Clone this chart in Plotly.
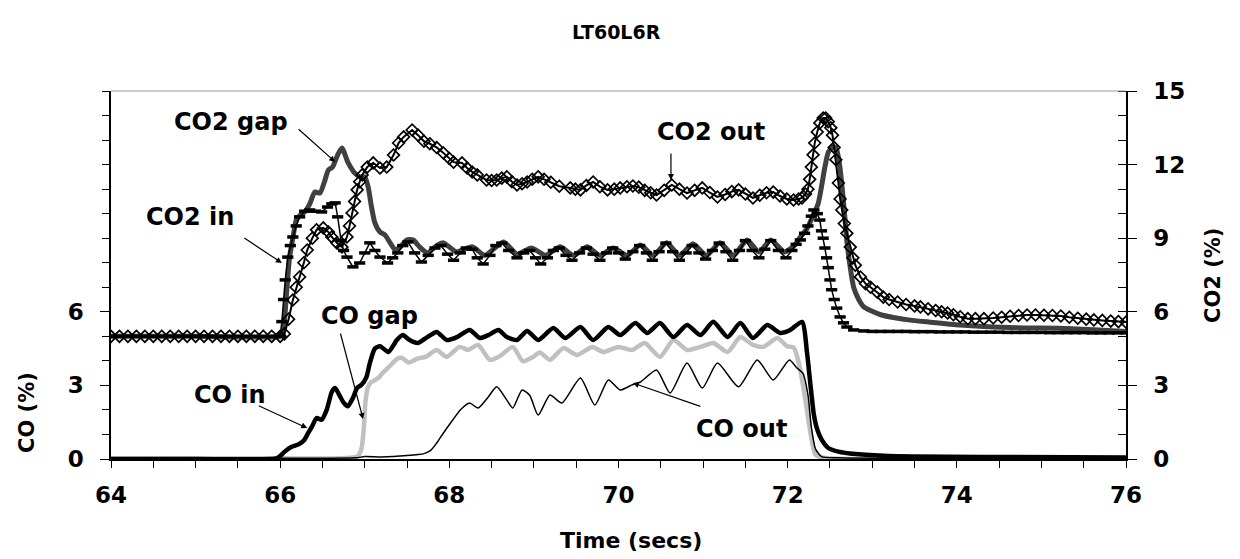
import plotly.graph_objects as go

# ---------------- data (time in s, concentration in %) ----------------
co_in_t = [64.0, 65.0, 65.95, 66.0, 66.05, 66.13, 66.22, 66.28, 66.33, 66.38, 66.43, 66.49,
           66.55, 66.61, 66.65, 66.70, 66.75, 66.80, 66.86, 66.91, 66.96, 67.02, 67.06, 67.12,
           67.18, 67.28, 67.38, 67.45, 67.53, 67.63, 67.74, 67.85, 67.97, 68.09, 68.24, 68.36,
           68.46, 68.58, 68.68, 68.80, 68.92, 69.05, 69.23, 69.37, 69.55, 69.70, 69.88, 70.02,
           70.20, 70.34, 70.49, 70.65, 70.81, 70.97, 71.12, 71.29, 71.44, 71.59, 71.76, 71.91,
           72.03, 72.17, 72.23, 72.27, 72.31, 72.35, 72.40, 72.48, 72.60, 72.80, 73.20, 74.5, 76.0]
co_in_v = [0.0, 0.0, 0.02, 0.12, 0.29, 0.49, 0.6, 0.75, 1.05, 1.35, 1.67, 1.6,
           2.0, 2.73, 2.89, 2.6, 2.3, 2.15, 2.49, 2.9, 3.02, 3.34, 3.91, 4.5,
           4.6, 4.36, 4.85, 5.05, 4.85, 4.73, 4.97, 5.18, 4.85, 4.97, 5.26, 4.93,
           5.05, 5.26, 4.97, 4.85, 5.22, 4.85, 5.34, 4.93, 5.38, 4.85, 5.38, 5.05,
           5.54, 5.14, 5.54, 4.97, 5.46, 5.05, 5.59, 4.97, 5.54, 4.93, 5.46, 5.14,
           5.26, 5.59, 4.3, 3.0, 1.8, 1.2, 0.8, 0.45, 0.3, 0.2, 0.12, 0.08, 0.06]

co_gap_t = [64.0, 66.0, 66.91, 66.96, 66.99, 67.01, 67.04, 67.08, 67.16, 67.21, 67.30, 67.38,
            67.44, 67.52, 67.63, 67.72, 67.85, 67.97, 68.12, 68.22, 68.34, 68.48, 68.60, 68.75,
            68.87, 68.99, 69.07, 69.19, 69.35, 69.51, 69.69, 69.82, 70.00, 70.16, 70.31, 70.49,
            70.65, 70.81, 70.97, 71.12, 71.29, 71.44, 71.59, 71.71, 71.88, 71.99, 72.07, 72.11,
            72.15, 72.21, 72.27, 72.33, 72.45, 76.0]
co_gap_v = [0.02, 0.03, 0.1, 0.4, 1.3, 2.4, 2.94, 3.14, 3.3, 3.5, 3.8, 4.08,
            4.12, 3.93, 4.1, 4.16, 4.44, 4.16, 4.57, 4.45, 4.65, 4.04, 4.2, 4.57,
            3.98, 4.16, 4.34, 4.04, 4.52, 4.24, 4.57, 4.36, 4.57, 4.44, 4.73, 4.16,
            4.85, 4.44, 4.57, 4.73, 4.36, 4.97, 4.65, 4.57, 4.93, 4.6, 4.55, 4.2,
            3.6, 2.4, 1.06, 0.16, 0.04, 0.03]

co_out_t = [64.0, 66.0, 66.9, 67.0, 67.2, 67.5, 67.70, 67.78, 67.85, 67.93, 68.04, 68.13,
            68.24, 68.34, 68.46, 68.56, 68.68, 68.75, 68.86, 68.95, 69.05, 69.19, 69.33, 69.55,
            69.72, 69.88, 70.02, 70.16, 70.26, 70.45, 70.61, 70.81, 70.99, 71.17, 71.42, 71.64,
            71.83, 72.02, 72.11, 72.18, 72.24, 72.28, 72.33, 72.40, 72.6, 76.0]
co_out_v = [0.02, 0.03, 0.05, 0.1, 0.08, 0.14, 0.22, 0.35, 0.65, 1.06, 1.59, 2.0,
            2.28, 2.08, 2.53, 2.94, 2.40, 2.08, 2.81, 2.6, 1.79, 2.61, 2.28, 3.30,
            2.20, 3.22, 2.81, 3.02, 3.14, 3.63, 2.69, 3.91, 2.89, 3.91, 2.94, 4.04,
            3.22, 4.04, 3.71, 3.5, 2.6, 1.3, 0.4, 0.1, 0.05, 0.03]

co2_in_t = [64.0, 64.1, 64.2, 64.3, 64.4, 64.5, 64.6, 64.7, 64.8, 64.9, 65.0, 65.1, 65.2,
            65.3, 65.4, 65.5, 65.6, 65.7, 65.8, 65.9, 66.0, 66.02, 66.04, 66.06, 66.09, 66.12,
            66.15, 66.19, 66.23, 66.29, 66.35, 66.42, 66.49, 66.56, 66.61, 66.65, 66.68, 66.72,
            66.75, 66.79, 66.86, 66.94, 67.00, 67.06, 67.12, 67.18, 67.27, 67.33, 67.39, 67.45,
            67.51, 67.59, 67.67, 67.75, 67.83, 67.90, 67.98, 68.05, 68.13, 68.20, 68.27, 68.33,
            68.40, 68.48, 68.55, 68.62, 68.70, 68.80, 68.88, 68.95, 69.02, 69.08, 69.16, 69.23,
            69.30, 69.38, 69.45, 69.54, 69.62, 69.70, 69.78, 69.86, 69.93, 70.00, 70.08, 70.17,
            70.25, 70.33, 70.40, 70.48, 70.56, 70.64, 70.72, 70.80, 70.87, 70.95, 71.03, 71.11,
            71.19, 71.27, 71.35, 71.43, 71.50, 71.58, 71.66, 71.73, 71.80, 71.89, 71.98, 72.05,
            72.10, 72.15, 72.20, 72.24, 72.28, 72.31, 72.35, 72.38, 72.40, 72.42, 72.44, 72.46,
            72.48, 72.50, 72.52, 72.55, 72.58, 72.62, 72.66, 72.70, 72.78, 72.9, 73.0, 73.1,
            73.2, 73.3, 73.4, 73.5, 73.6, 73.7, 73.8, 73.9, 74.0, 74.1, 74.2, 74.3, 74.4, 74.5,
            74.6, 74.7, 74.8, 74.9, 75.0, 75.1, 75.2, 75.3, 75.4, 75.5, 75.6, 75.7, 75.8, 75.9,
            76.0]
co2_in_v = [5.0, 5.0, 5.0, 5.0, 5.0, 5.0, 5.0, 5.0, 5.0, 5.0, 5.0, 5.0, 5.0,
            5.0, 5.0, 5.0, 5.0, 5.0, 5.0, 5.0, 5.0, 5.6, 6.5, 7.3, 8.23, 8.7,
            9.05, 9.5, 9.87, 10.1, 10.15, 10.1, 10.07, 10.27, 10.4, 10.44, 9.87, 8.9,
            8.5, 8.23, 7.83, 7.99, 8.4, 8.81, 8.5, 8.23, 7.99, 8.2, 8.40, 8.7,
            8.85, 8.4, 8.03, 8.3, 8.6, 8.7, 8.35, 8.1, 8.4, 8.6, 8.55, 8.2,
            7.95, 8.3, 8.7, 8.8, 8.5, 8.2, 8.4, 8.5, 8.2, 7.95, 8.2, 8.5,
            8.6, 8.3, 8.1, 8.4, 8.6, 8.35, 8.1, 8.4, 8.6, 8.4, 8.15, 8.45,
            8.7, 8.4, 8.1, 8.45, 8.8, 8.45, 8.1, 8.4, 8.7, 8.4, 8.15, 8.5,
            8.8, 8.45, 8.1, 8.5, 8.9, 8.5, 8.2, 8.55, 8.9, 8.5, 8.2, 8.5,
            8.75, 8.93, 9.2, 9.5, 9.9, 10.15, 10.0, 9.74, 9.3, 9.0, 8.6, 8.2,
            7.8, 7.3, 6.9, 6.5, 6.15, 5.79, 5.55, 5.38, 5.26, 5.22, 5.2, 5.2,
            5.2, 5.2, 5.2, 5.19, 5.19, 5.19, 5.18, 5.18, 5.18, 5.18, 5.17, 5.17, 5.17, 5.17,
            5.16, 5.16, 5.16, 5.16, 5.16, 5.15, 5.15, 5.15, 5.15, 5.15, 5.14, 5.14, 5.14, 5.14,
            5.14]

co2_gap_t = [64.0, 65.0, 66.0, 66.03, 66.05, 66.07, 66.09, 66.11, 66.15, 66.19, 66.24, 66.29,
             66.35, 66.41, 66.47, 66.53, 66.57, 66.62, 66.68, 66.73, 66.80, 66.88, 66.94, 67.00,
             67.04, 67.08, 67.12, 67.18, 67.24, 67.30, 67.36, 67.42, 67.50, 67.57, 67.65, 67.74,
             67.85, 67.93, 68.08, 68.27, 68.42, 68.64, 68.80, 68.97, 69.14, 69.31, 69.47, 69.63,
             69.78, 69.94, 70.10, 70.26, 70.41, 70.57, 70.72, 70.88, 71.04, 71.20, 71.36, 71.52,
             71.66, 71.80, 71.96, 72.08, 72.15, 72.23, 72.31, 72.36, 72.40, 72.44, 72.48, 72.53,
             72.57, 72.61, 72.64, 72.67, 72.70, 72.74, 72.78, 72.84, 72.90, 72.98, 73.10, 73.25,
             73.45, 73.65, 74.04, 74.43, 74.8, 75.2, 75.62, 76.0]
co2_gap_v = [5.0, 5.0, 5.0, 5.1, 5.6, 6.5, 7.4, 8.2, 9.0, 9.74, 9.95, 10.07,
             10.4, 10.88, 10.84, 11.37, 11.78, 11.9, 12.4, 12.68, 12.1, 11.66, 11.5, 11.5,
             11.09, 10.27, 9.62, 9.25, 9.13, 8.81, 8.52, 8.64, 8.93, 8.93, 8.64, 8.40,
             8.7, 8.81, 8.45, 8.65, 8.3, 8.85, 8.35, 8.6, 8.3, 8.65, 8.3, 8.65,
             8.3, 8.6, 8.3, 8.72, 8.3, 8.81, 8.3, 8.77, 8.3, 8.81, 8.3, 8.93,
             8.44, 8.93, 8.44, 8.7, 9.05, 9.4, 10.0, 10.4, 11.1, 11.9, 12.5, 12.72,
             12.7, 12.1, 11.2, 10.1, 8.9, 7.8, 7.0, 6.5, 6.2, 6.05, 5.88, 5.77,
             5.66, 5.59, 5.46, 5.38, 5.34, 5.33, 5.27, 5.2]

co2_out_t = [64.0, 64.1, 64.2, 64.3, 64.4, 64.5, 64.6, 64.7, 64.8, 64.9, 65.0, 65.1, 65.2,
             65.3, 65.4, 65.5, 65.6, 65.7, 65.8, 65.9, 66.0, 66.05, 66.10, 66.15, 66.19, 66.23,
             66.28, 66.32, 66.38, 66.43, 66.51, 66.57, 66.61, 66.67, 66.73, 66.79, 66.82, 66.85,
             66.88, 66.91, 66.94, 66.97, 67.03, 67.10, 67.18, 67.26, 67.34, 67.40, 67.46, 67.56,
             67.63, 67.70, 67.77, 67.85, 67.93, 68.00, 68.05, 68.15, 68.21, 68.27, 68.33, 68.44,
             68.50, 68.56, 68.62, 68.68, 68.74, 68.80, 68.86, 68.92, 68.98, 69.05, 69.12, 69.20,
             69.30, 69.43, 69.49, 69.55, 69.62, 69.70, 69.78, 69.87, 69.95, 70.02, 70.10, 70.17,
             70.24, 70.31, 70.38, 70.45, 70.54, 70.63, 70.72, 70.81, 70.90, 70.99, 71.08, 71.17,
             71.26, 71.34, 71.42, 71.50, 71.59, 71.67, 71.75, 71.83, 71.91, 71.99, 72.07, 72.13,
             72.17, 72.21, 72.24, 72.26, 72.28, 72.30, 72.32, 72.35, 72.38, 72.42, 72.45, 72.48,
             72.51, 72.53, 72.55, 72.57, 72.60, 72.62, 72.64, 72.67, 72.70, 72.74, 72.77, 72.80,
             72.86, 72.92, 72.98, 73.06, 73.13, 73.20, 73.30, 73.40, 73.50, 73.57, 73.66, 73.75,
             73.82, 73.89, 73.96, 74.04, 74.13, 74.22, 74.32, 74.43, 74.53, 74.63, 74.73, 74.83,
             74.93, 75.03, 75.13, 75.23, 75.33, 75.43, 75.53, 75.62, 75.72, 75.82, 75.91, 76.0]
co2_out_v = [5.0, 5.0, 5.0, 5.0, 5.0, 5.0, 5.0, 5.0, 5.0, 5.0, 5.0, 5.0, 5.0,
             5.0, 5.0, 5.0, 5.0, 5.0, 5.0, 5.0, 5.0, 5.1, 5.7, 6.48, 7.0, 7.42,
             8.0, 8.52, 9.0, 9.34, 9.42, 9.25, 9.05, 8.81, 8.64, 9.05, 9.5, 10.03,
             10.5, 10.97, 11.3, 11.58, 11.9, 12.07, 11.86, 11.9, 12.39, 12.88, 13.13, 13.41,
             13.2, 12.95, 12.85, 12.7, 12.47, 12.25, 12.1, 12.07, 11.86, 11.7, 11.58, 11.37,
             11.35, 11.37, 11.45, 11.5, 11.3, 11.17, 11.22, 11.29, 11.4, 11.5, 11.4, 11.28,
             11.12, 11.05, 11.0, 10.97, 11.15, 11.29, 11.1, 10.97, 11.0, 11.05, 11.1, 11.13,
             11.08, 10.95, 10.85, 10.76, 10.95, 11.17, 11.0, 10.84, 10.95, 11.05, 10.86, 10.68,
             10.78, 10.9, 10.97, 10.8, 10.64, 10.75, 10.85, 10.88, 10.72, 10.6, 10.56, 10.6,
             10.64, 10.8, 11.0, 11.4, 11.9, 12.4, 12.88, 13.33, 13.7, 13.9, 13.9, 13.75,
             13.5, 13.2, 12.7, 12.2, 11.25, 10.6, 10.15, 9.6, 9.2, 8.64, 8.2, 7.9,
             7.42, 7.15, 7.0, 6.8, 6.6, 6.5, 6.4, 6.3, 6.24, 6.2, 6.12, 6.05,
             6.0, 5.95, 5.88, 5.8, 5.72, 5.72, 5.72, 5.75, 5.78, 5.82, 5.85, 5.87,
             5.87, 5.86, 5.85, 5.83, 5.78, 5.74, 5.7, 5.67, 5.65, 5.62, 5.6, 5.58]

# axis ticks: marks every half second, labels every two seconds
x_tickvals = [64.0, 64.5, 65.0, 65.5, 66.0, 66.5, 67.0, 67.5, 68.0, 68.5, 69.0, 69.5,
              70.0, 70.5, 71.0, 71.5, 72.0, 72.5, 73.0, 73.5, 74.0, 74.5, 75.0, 75.5, 76.0]
x_ticktext = ["64", "", "", "", "66", "", "", "", "68", "", "", "",
              "70", "", "", "", "72", "", "", "", "74", "", "", "", "76"]
co_ticks = [0, 3, 6]
co2_ticks = [0, 3, 6, 9, 12, 15]

FONT = "DejaVu Sans"
BLACK = "#000000"

fig = go.Figure()

# CO traces (left axis)
fig.add_trace(go.Scatter(x=co_gap_t, y=co_gap_v, name="CO gap", mode="lines",
                         line=dict(color="#c0c0c0", width=4.5, shape="spline", smoothing=0.6)))
fig.add_trace(go.Scatter(x=co_out_t, y=co_out_v, name="CO out", mode="lines",
                         line=dict(color=BLACK, width=1.5, shape="spline", smoothing=0.6)))
fig.add_trace(go.Scatter(x=co_in_t, y=co_in_v, name="CO in", mode="lines",
                         line=dict(color=BLACK, width=4.5, shape="spline", smoothing=0.6)))

# CO2 traces (right axis)
fig.add_trace(go.Scatter(x=co2_gap_t, y=co2_gap_v, name="CO2 gap", mode="lines", yaxis="y2",
                         line=dict(color="#404040", width=5, shape="spline", smoothing=0.6)))
fig.add_trace(go.Scatter(x=co2_in_t, y=co2_in_v, name="CO2 in", mode="lines+markers",
                         yaxis="y2", line=dict(color=BLACK, width=1.5),
                         marker=dict(symbol="line-ew", size=8,
                                     line=dict(color=BLACK, width=3.5))))
fig.add_trace(go.Scatter(x=co2_out_t, y=co2_out_v, name="CO2 out", mode="lines+markers",
                         yaxis="y2",
                         line=dict(color=BLACK, width=2),
                         marker=dict(symbol="diamond-open", size=9, color=BLACK,
                                     line=dict(color=BLACK, width=1.7))))

tick_font = dict(family=FONT, size=23, color=BLACK, weight="bold")
label_font = dict(family=FONT, size=24, color=BLACK, weight="bold")

fig.update_layout(
    width=1240, height=559,
    margin=dict(l=111, r=114, t=91, b=100),
    paper_bgcolor="white", plot_bgcolor="white",
    showlegend=False,
    xaxis=dict(range=[64, 76], tickmode="array", tickvals=x_tickvals, ticktext=x_ticktext,
               ticks="outside", ticklen=7, tickwidth=1, tickcolor=BLACK, showline=True,
               linecolor=BLACK, linewidth=1.5, showgrid=False, zeroline=False,
               tickfont=tick_font, ticklabelstandoff=8, minor=dict(ticks="")),
    yaxis=dict(range=[0, 15], tickvals=co_ticks, ticks="outside", ticklen=9, tickwidth=1,
               tickcolor=BLACK, showline=True, linecolor=BLACK, linewidth=1.5,
               showgrid=False, zeroline=False, tickfont=tick_font, ticklabelstandoff=12,
               minor=dict(tickmode="linear", tick0=0, dtick=1, ticks="outside", ticklen=7,
                          tickcolor=BLACK, tickwidth=1)),
    yaxis2=dict(range=[0, 15], tickvals=co2_ticks, overlaying="y", side="right",
                ticks="outside", ticklen=9, tickwidth=1, tickcolor=BLACK, showline=True,
                linecolor=BLACK, linewidth=1.5, showgrid=False, zeroline=False,
                tickfont=tick_font, ticklabelstandoff=12,
                minor=dict(tickmode="linear", tick0=0, dtick=1, ticks="inside", ticklen=8,
                           tickcolor=BLACK, tickwidth=1)),
)

# thin border along the top of the plotting area
fig.add_shape(type="line", xref="paper", yref="paper", x0=0, x1=1, y0=1, y1=1,
              line=dict(color="#9a9a9a", width=1))

# titles
fig.add_annotation(text="LT60L6R", xref="paper", yref="paper", x=0.4985, y=1.160,
                   showarrow=False, font=dict(family=FONT, size=19, color=BLACK, weight="bold"),
                   xanchor="center", yanchor="middle")
fig.add_annotation(text="Time (secs)", xref="paper", yref="paper", x=0.512, y=-0.2228,
                   showarrow=False, font=dict(family=FONT, size=22, color=BLACK, weight="bold"),
                   xanchor="center", yanchor="middle")
fig.add_annotation(text="CO (%)", xref="paper", yref="paper", x=-0.0828, y=0.1277,
                   showarrow=False, textangle=-90,
                   font=dict(family=FONT, size=21, color=BLACK, weight="bold"),
                   xanchor="center", yanchor="middle")
fig.add_annotation(text="CO2 (%)", xref="paper", yref="paper", x=1.0857, y=0.5,
                   showarrow=False, textangle=-90,
                   font=dict(family=FONT, size=21, color=BLACK, weight="bold"),
                   xanchor="center", yanchor="middle")

# series labels
labels = [
    ("CO2 gap", 65.42, 13.74),
    ("CO2 in", 64.93, 9.87),
    ("CO2 out", 71.09, 13.33),
    ("CO in", 65.41, 2.61),
    ("CO gap", 67.06, 5.83),
    ("CO out", 71.46, 1.22),
]
for txt, lx, ly in labels:
    fig.add_annotation(text=txt, x=lx, y=ly, xref="x", yref="y", showarrow=False,
                       font=label_font, xanchor="center", yanchor="middle")

# pointer arrows: (head x, head y, tail offset dx, dy in px)
arrows = [
    (66.65, 12.11, -38, -34),
    (66.02, 7.99, -39, -26),
    (70.62, 11.37, 0, -28),
    (66.32, 1.26, -50, -23),
    (66.98, 1.63, -23, -87),
    (70.17, 3.10, 69, 24),
]
for hx, hy, dx, dy in arrows:
    fig.add_annotation(text="", x=hx, y=hy, xref="x", yref="y", ax=dx, ay=dy,
                       showarrow=True, arrowhead=2, arrowsize=1, arrowwidth=1.2,
                       arrowcolor=BLACK, standoff=0, startstandoff=0)

fig.write_html("out.html")
